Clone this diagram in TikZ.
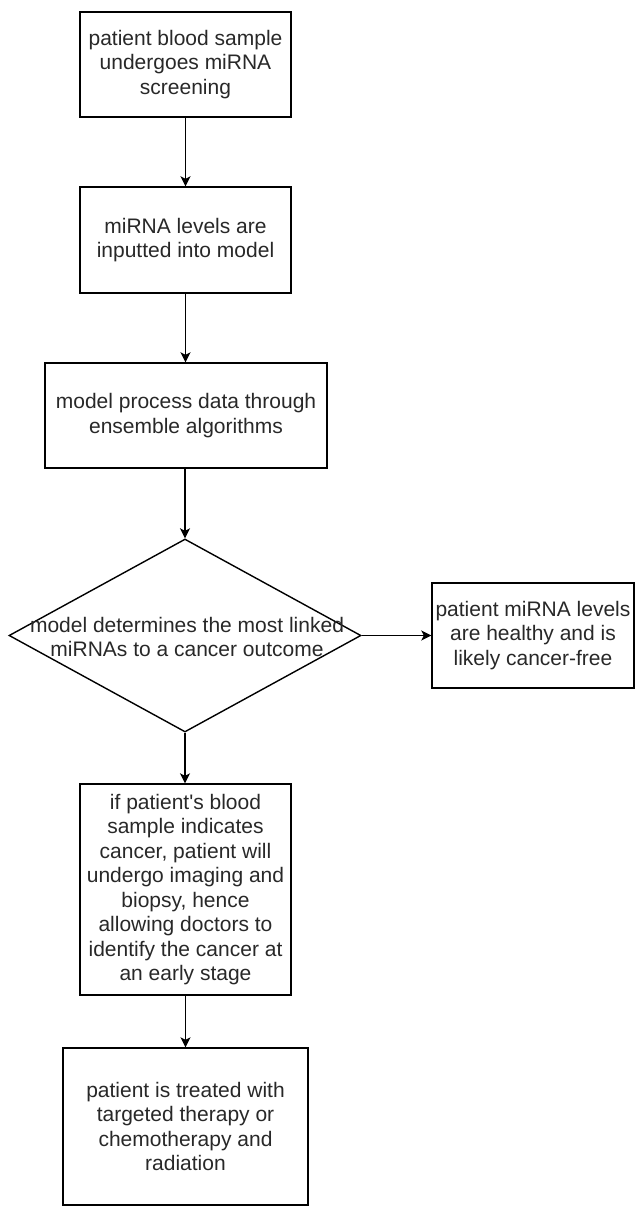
\documentclass[tikz,border=0pt]{standalone}
\usepackage{fontspec}
\setmainfont{Liberation Sans}[Ligatures=TeXOff]
\usetikzlibrary{shapes.geometric,arrows.meta}
\definecolor{txt}{RGB}{40,40,40}
\begin{document}
\begin{tikzpicture}[x=1pt,y=-1pt,
  box/.style={draw=black,line width=1.4pt,rectangle,inner sep=0pt,align=center,text=txt,
    font=\fontsize{21}{24.5}\selectfont},
  dia/.style={draw=black,line width=1.4pt,diamond,inner sep=0pt},
  lbl/.style={align=center,text=txt,font=\fontsize{21}{24.5}\selectfont,inner sep=0pt},
  conn/.style={draw=black,line width=1.4pt,-{Stealth[length=10pt,width=10pt,inset=2.5pt]}}]
\useasboundingbox (0,0) rectangle (639,1207);
\node[box,minimum width=211,minimum height=105] (b1) at (185.5,64.5)
  {patient blood sample\\undergoes miRNA\\screening};
\node[box,minimum width=211,minimum height=106] (b2) at (185.5,240)
  {miRNA levels are\\inputted into model};
\node[box,minimum width=282,minimum height=105] (b3) at (186,415.5)
  {model process data through\\ensemble algorithms};
\node[dia,minimum width=352,minimum height=193] (d) at (185,635.5) {};
\node[lbl] (dt) at (187,637) {model determines the most linked\\miRNAs to a cancer outcome};
\node[box,minimum width=202,minimum height=105] (r) at (533,635.5)
  {patient miRNA levels\\are healthy and is\\likely cancer-free};
\node[box,minimum width=211,minimum height=211] (b4) at (185.5,889.5)
  {if patient's blood\\sample indicates\\cancer, patient will\\undergo imaging and\\biopsy, hence\\allowing doctors to\\identify the cancer at\\an early stage};
\node[box,minimum width=245,minimum height=157] (b5) at (185.5,1126.5)
  {patient is treated with\\targeted therapy or\\chemotherapy and\\radiation};
\draw[conn] (b1.south) -- (b2.north);
\draw[conn] (b2.south) -- (b3.north -| b2.south);
\draw[conn] (b3.south -| d.north) -- (d.north);
\draw[conn] (d.south) -- (b4.north -| d.south);
\draw[conn] (b4.south) -- (b5.north);
\draw[conn] (d.east) -- (r.west);
\end{tikzpicture}
\end{document}
